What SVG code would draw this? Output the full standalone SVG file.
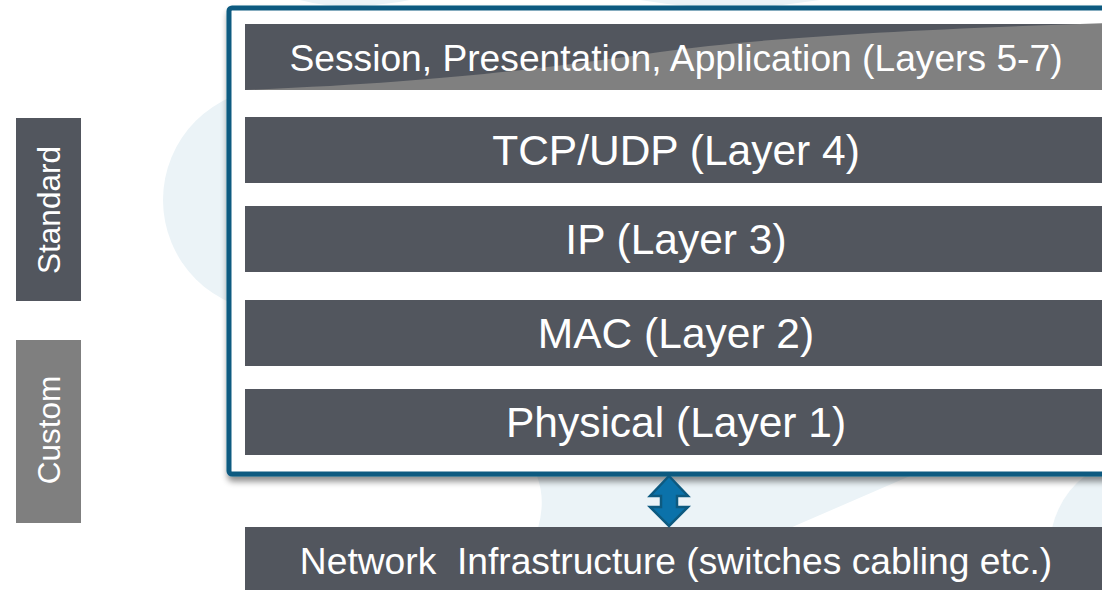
<svg xmlns="http://www.w3.org/2000/svg" width="1102" height="590" viewBox="0 0 1102 590">
  <style>
    .bar { fill: #52565e; }
    .lbl { font-family: "Liberation Sans", Arial, sans-serif; fill: #ffffff; text-anchor: middle; }
    .big { font-size: 42.5px; }
    .mid { font-size: 37.2px; }
    .side { font-size: 31.5px; }
    .bg { fill: #ebf3f7; }
  </style>
  <defs>
    <filter id="shadow" x="-5%" y="-5%" width="115%" height="115%">
      <feDropShadow dx="1" dy="5" stdDeviation="3" flood-color="#000000" flood-opacity="0.45"/>
    </filter>
  </defs>
  <rect width="1102" height="590" fill="#ffffff"/>
  <g id="background">
    <circle class="bg" cx="275" cy="200" r="112"/>
    <path class="bg" d="M300,0 Q330,8 360,6 Q390,4 410,0 Z"/>
    <path class="bg" d="M640,0 Q700,10 760,8 L820,0 Z"/>
    <path class="bg" d="M537,476 Q546,500 538,528 L790,528 L910,476 Z"/>
    <path class="bg" d="M1052,528 Q1060,495 1085,476 L1102,476 L1102,528 Z"/>
  </g>
  <g id="frame">
    <rect x="229" y="8" width="900" height="466" rx="3" fill="#ffffff" stroke="#0d5a80" stroke-width="5" filter="url(#shadow)"/>
  </g>
  <g id="layer567">
    <rect class="bar" x="245" y="24" width="862" height="66"/>
    <path d="M245,90 C450,82 560,66 660,52 S900,30 1107,23 L1107,90 Z" fill="#808080"/>
    <text class="lbl mid" x="676" y="71">Session, Presentation, Application (Layers 5-7)</text>
  </g>
  <g id="layer4">
    <rect class="bar" x="245" y="117" width="862" height="66"/>
    <text class="lbl big" x="676" y="165">TCP/UDP (Layer 4)</text>
  </g>
  <g id="layer3">
    <rect class="bar" x="245" y="206" width="862" height="66"/>
    <text class="lbl big" x="676" y="254">IP (Layer 3)</text>
  </g>
  <g id="layer2">
    <rect class="bar" x="245" y="300" width="862" height="66"/>
    <text class="lbl big" x="676" y="348">MAC (Layer 2)</text>
  </g>
  <g id="layer1">
    <rect class="bar" x="245" y="389" width="862" height="66"/>
    <text class="lbl big" x="676" y="437">Physical (Layer 1)</text>
  </g>
  <g id="network">
    <rect class="bar" x="245" y="527" width="862" height="63"/>
    <text class="lbl mid" x="676" y="574" xml:space="preserve">Network  Infrastructure (switches cabling etc.)</text>
  </g>
  <g id="standard">
    <rect x="16" y="118" width="65" height="183" fill="#52565e"/>
    <text class="lbl side" transform="translate(60,210) rotate(-90)">Standard</text>
  </g>
  <g id="custom">
    <rect x="16" y="340" width="65" height="183" fill="#7f7f7f"/>
    <text class="lbl side" transform="translate(60,430) rotate(-90)">Custom</text>
  </g>
  <g id="connectors">
    <path d="M669,476 L688,496 L677,496 L677,507 L688,507 L669,526 L650,507 L661,507 L661,496 L650,496 Z" fill="#0b72aa" stroke="#0d5a80" stroke-width="2.5" stroke-linejoin="miter"/>
  </g>
</svg>
